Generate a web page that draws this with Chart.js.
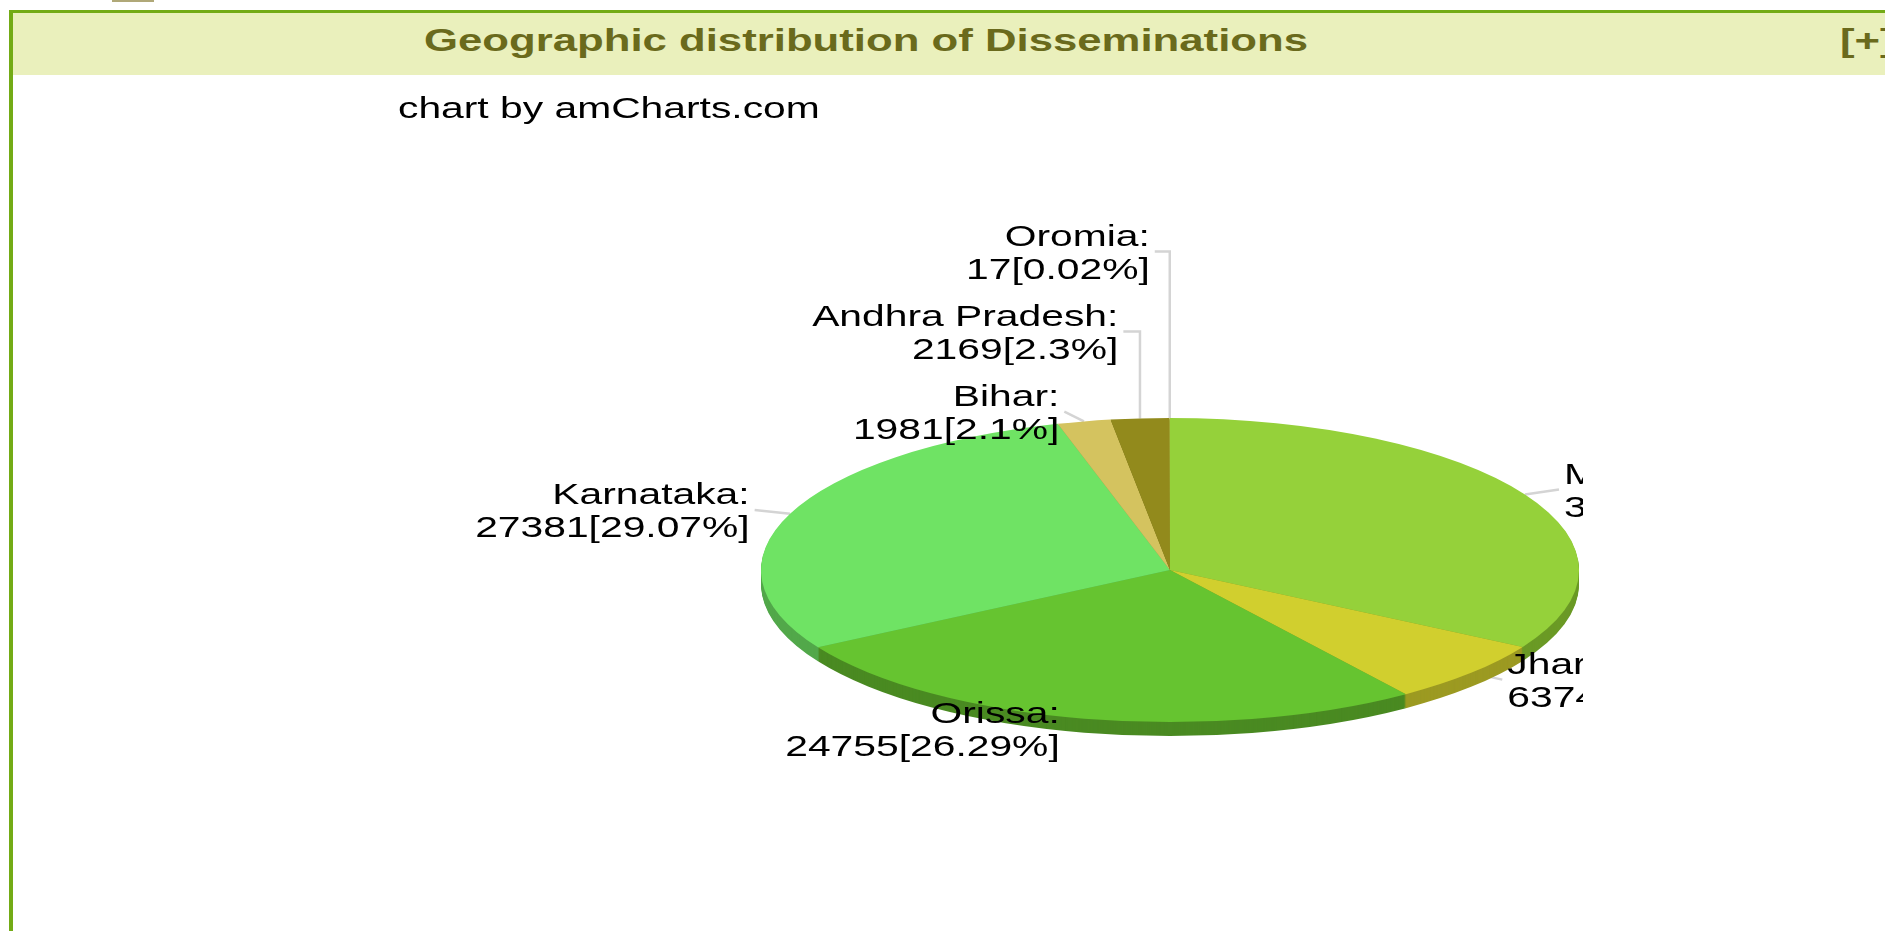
<!DOCTYPE html>
<html>
<head>
<meta charset="utf-8">
<title>Geographic distribution of Disseminations</title>
<script src="https://cdn.jsdelivr.net/npm/chart.js@4.4.1/dist/chart.umd.min.js"></script>
<style>
  html, body { margin: 0; padding: 0; background: #fff; width: 1885px; height: 931px; overflow: hidden; }
  #crumb { position: absolute; left: 112px; top: 0; width: 42px; height: 2px; background: #b0a878; }
  #panel { position: absolute; left: 9px; top: 10px; width: 2000px; height: 1000px;
           border-left: 4px solid #73ab15; border-top: 3px solid #73ab15; }
  #panel-head { position: absolute; left: 0; top: 0; width: 2000px; height: 62px; background: #eaf0bc; }
  .head-text { position: absolute; top: 12px; font: bold 31px "Liberation Sans", Arial, sans-serif;
               line-height: 31px; color: #6a6a1c; white-space: nowrap; transform: scaleX(1.41); }
  #panel-title { left: 0; width: 1706px; text-align: center; }
  #panel-toggle { left: 1827px; transform-origin: left center; }
  #pie { position: absolute; left: 4px; top: 65px; }
</style>
</head>
<body>
<div id="crumb"></div>
<div id="panel">
  <div id="panel-head">
    <div class="head-text" id="panel-title">Geographic distribution of Disseminations</div>
    <div class="head-text" id="panel-toggle">[+]</div>
  </div>
  <canvas id="pie" width="1566" height="856"></canvas>
</div>
<script>
// data
var regions = ['Maharashtra', 'Jharkhand', 'Orissa', 'Karnataka', 'Bihar', 'Andhra Pradesh', 'Oromia'];
var disseminations = [31499, 6374, 24755, 27381, 1981, 2169, 17];
var sliceColors = ['#95d13a', '#d1cf2e', '#66c430', '#6fe364', '#d4c35f', '#928a1c', '#b8c94a'];
var sideColors = ['#6b9a26', '#9c9a22', '#4a8a22', '#52a84a', '#a0924a', '#6c6614', '#8a9636'];
var creditText = 'chart by amCharts.com';

var TILT = 152 / 409;     // ellipse ratio of the 3d pie
var DEPTH = 14;           // thickness of the pie side
var PIE_Y = 492;          // vertical centre of the tilted pie
var TEXT_STRETCH = 1.36;  // the screenshot is stretched sideways
var LABEL_STEP = 80;

function tilt(ctx, arc) {
    ctx.translate(arc.x, PIE_Y);
    ctx.scale(1, TILT);
    ctx.translate(-arc.x, -arc.y);
}

function drawText(ctx, text, x, y, align) {
    ctx.save();
    ctx.textAlign = align;
    ctx.translate(x, y);
    ctx.scale(TEXT_STRETCH, 1);
    ctx.fillText(text, 0, 0);
    ctx.restore();
}

function layoutLabels(chart) {
    var arcs = chart.getDatasetMeta(0).data;
    var total = disseminations.reduce(function(a, b) { return a + b; }, 0);
    var labels = [];
    for (var i = 0; i < arcs.length; i++) {
        var a = arcs[i];
        var mid = (a.startAngle + a.endAngle) / 2;
        var ex = a.x + a.outerRadius * Math.cos(mid);
        var ey = PIE_Y + a.outerRadius * TILT * Math.sin(mid);
        var right = Math.cos(mid) >= 0;
        var gap = 20 + 22 * Math.abs(Math.cos(mid));
        var pct = Math.round(disseminations[i] / total * 10000) / 100;
        labels.push({
            ex: ex, ey: ey, right: right,
            x: ex + (right ? gap : -gap),
            y: ey + 10 * Math.sin(mid),
            lines: [regions[i] + ':', disseminations[i] + '[' + pct + '%]']
        });
    }
    // push overlapping labels upwards, like amCharts does
    [true, false].forEach(function(side) {
        var list = labels.filter(function(l) { return l.right === side; })
                         .sort(function(p, q) { return q.y - p.y; });
        var prev = Infinity;
        list.forEach(function(l) {
            if (l.y > prev - LABEL_STEP) l.y = prev - LABEL_STEP;
            prev = l.y;
        });
    });
    return labels;
}

function drawConnectors(ctx, labels) {
    ctx.save();
    ctx.strokeStyle = '#d4d4d4';
    ctx.lineWidth = 2.5;
    labels.forEach(function(l) {
        ctx.beginPath();
        ctx.moveTo(l.ex, l.ey);
        if (Math.abs(l.y - l.ey) > 20) ctx.lineTo(l.ex, l.y);
        ctx.lineTo(l.x + (l.right ? -5 : 5), l.y);
        ctx.stroke();
    });
    ctx.restore();
}

function drawLabels(ctx, labels) {
    ctx.save();
    ctx.fillStyle = '#000';
    ctx.font = '30px "Liberation Sans", Arial, sans-serif';
    labels.forEach(function(l) {
        drawText(ctx, l.lines[0], l.x, l.y - 16.5 + 10.7, l.right ? 'left' : 'right');
        drawText(ctx, l.lines[1], l.x, l.y + 16.5 + 10.7, l.right ? 'left' : 'right');
    });
    drawText(ctx, creditText, 381, 40, 'left');
    ctx.restore();
}

var pie3d = {
    id: 'pie3d',
    beforeDatasetsDraw: function(chart) {
        var ctx = chart.ctx;
        var arcs = chart.getDatasetMeta(0).data;
        chart.$labels = layoutLabels(chart);
        drawConnectors(ctx, chart.$labels);
        // side of the pie: the same arcs, darker, shifted down
        for (var d = DEPTH; d > 0; d--) {
            ctx.save();
            ctx.translate(0, d);
            tilt(ctx, arcs[0]);
            for (var i = 0; i < arcs.length; i++) {
                var side = Object.create(arcs[i]);
                side.options = Object.assign({}, arcs[i].options, { backgroundColor: sideColors[i] });
                arcs[i].draw.call(side, ctx);
            }
            ctx.restore();
        }
        ctx.save();
        tilt(ctx, arcs[0]);
    },
    afterDatasetsDraw: function(chart) {
        chart.ctx.restore();
        drawLabels(chart.ctx, chart.$labels);
    }
};

new Chart(document.getElementById('pie'), {
    type: 'pie',
    data: {
        labels: regions,
        datasets: [{
            data: disseminations,
            backgroundColor: sliceColors,
            borderWidth: 0,
            hoverOffset: 0,
            radius: 409,
            clip: false
        }]
    },
    options: {
        responsive: false,
        animation: false,
        events: [],
        layout: { padding: { left: 740 } },
        plugins: {
            legend: { display: false },
            tooltip: { enabled: false }
        }
    },
    plugins: [pie3d]
});
</script>
</body>
</html>
